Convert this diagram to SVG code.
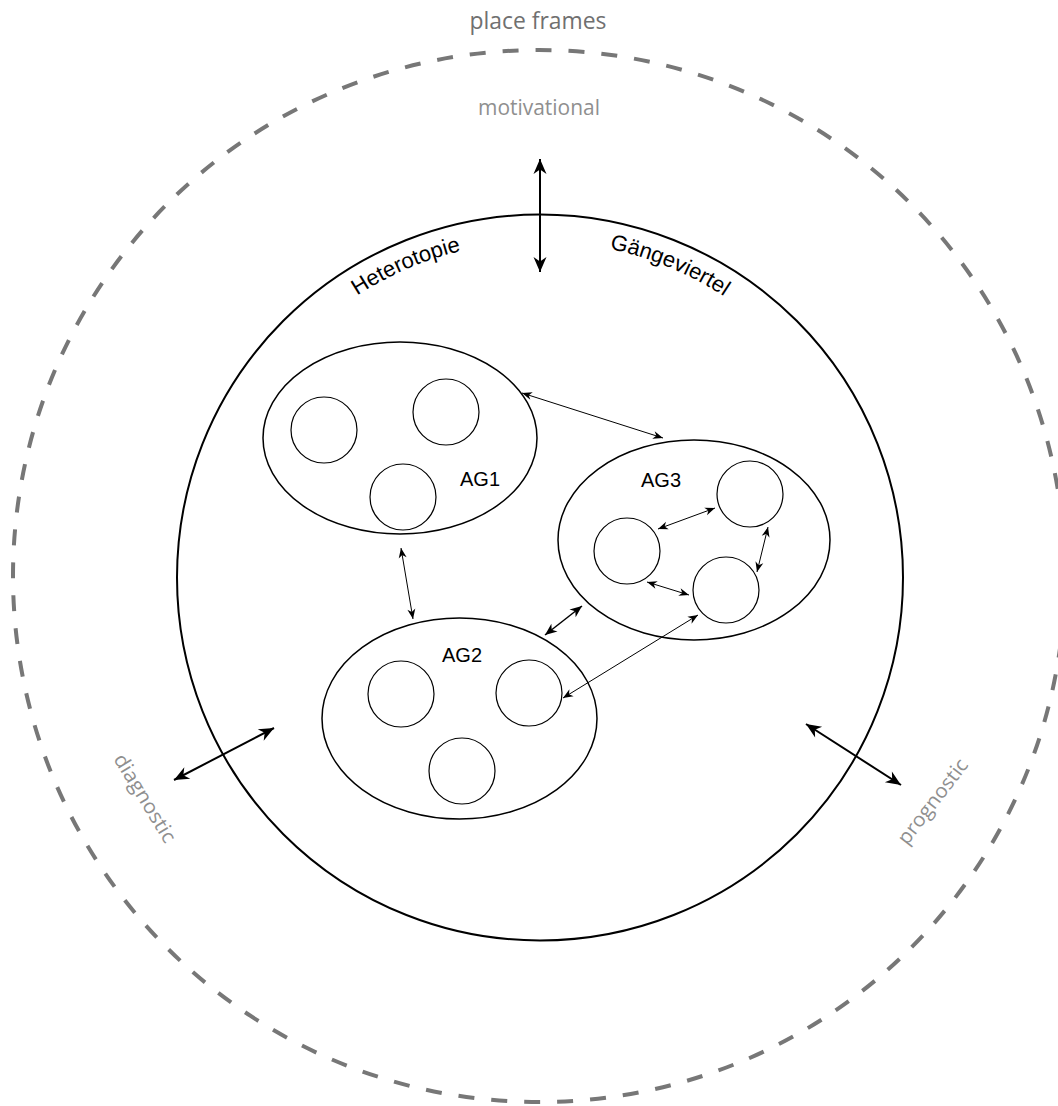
<svg xmlns="http://www.w3.org/2000/svg" width="1058" height="1106" viewBox="0 0 1058 1106">
<style>
  .frame { fill: none; stroke: #777; stroke-width: 4; stroke-dasharray: 16 17; }
  .main { fill: none; stroke: #000; stroke-width: 2; }
  .group { fill: none; stroke: #000; stroke-width: 1.5; }
  .member { fill: none; stroke: #000; stroke-width: 1.2; }
  .gray1 { font-family: "Open Sans", "Noto Sans", sans-serif; fill: #707070; }
  .gray2 { font-family: "Open Sans", "Noto Sans", sans-serif; fill: #8f8f8f; }
  .lbl { font-family: "Liberation Sans", Arial, sans-serif; fill: #000; }
  .big { fill: none; stroke: #000; stroke-width: 2; marker-start: url(#bigArrow); marker-end: url(#bigArrow); }
  .mid { fill: none; stroke: #000; stroke-width: 1.5; marker-start: url(#midArrow); marker-end: url(#midArrow); }
  .small { fill: none; stroke: #000; stroke-width: 1; marker-start: url(#smallArrow); marker-end: url(#smallArrow); }
</style>
<defs>
  <marker id="bigArrow" viewBox="-16 -8 17 16" refX="0" refY="0" markerWidth="17" markerHeight="16" markerUnits="userSpaceOnUse" orient="auto-start-reverse">
    <path d="M0,0 L-15,-6.5 L-10.5,0 L-15,6.5 Z" fill="#000"/>
  </marker>
  <marker id="midArrow" viewBox="-13 -6 14 12" refX="0" refY="0" markerWidth="14" markerHeight="12" markerUnits="userSpaceOnUse" orient="auto-start-reverse">
    <path d="M0,0 L-12,-5 L-8.5,0 L-12,5 Z" fill="#000"/>
  </marker>
  <marker id="smallArrow" viewBox="-11 -5 12 10" refX="0" refY="0" markerWidth="12" markerHeight="10" markerUnits="userSpaceOnUse" orient="auto-start-reverse">
    <path d="M0,0 L-10,-4 L-7,0 L-10,4 Z" fill="#000"/>
  </marker>
  <path id="innerArc" d="M 204,577.5 A 336 336 0 0 1 876,577.5"/>
</defs>
<rect width="1058" height="1106" fill="#fff"/>

<g id="place-frames">
  <circle class="frame" cx="539" cy="576" r="526"/>
  <text class="gray1" x="538" y="29" font-size="23" text-anchor="middle" textLength="137" lengthAdjust="spacingAndGlyphs">place frames</text>
</g>

<g id="motivational">
  <text class="gray2" x="539" y="115" font-size="21" text-anchor="middle" textLength="122" lengthAdjust="spacingAndGlyphs">motivational</text>
</g>
<g id="diagnostic">
  <text class="gray2" font-size="20" transform="translate(113,759) rotate(58.5)" textLength="100" lengthAdjust="spacingAndGlyphs">diagnostic</text>
</g>
<g id="prognostic">
  <text class="gray2" font-size="20" transform="translate(907,846) rotate(-52.5)" textLength="102" lengthAdjust="spacingAndGlyphs">prognostic</text>
</g>

<g id="hamburg">
  <circle class="main" cx="540" cy="577.5" r="363"/>
  <text class="lbl" font-size="22" text-anchor="middle"><textPath href="#innerArc" startOffset="391">Heterotopie</textPath></text>
  <text class="lbl" font-size="22" text-anchor="middle"><textPath href="#innerArc" startOffset="660">Gängeviertel</textPath></text>
</g>

<g id="AG1">
  <ellipse class="group" cx="400" cy="438" rx="137" ry="96"/>
  <circle class="member" cx="324" cy="430" r="33"/>
  <circle class="member" cx="446" cy="412" r="33"/>
  <circle class="member" cx="403" cy="497" r="33"/>
  <text class="lbl" x="480" y="486" font-size="20" text-anchor="middle">AG1</text>
</g>

<g id="AG2">
  <ellipse class="group" cx="459.5" cy="718.5" rx="137.5" ry="100.5"/>
  <circle class="member" cx="401" cy="694" r="33"/>
  <circle class="member" cx="529" cy="693" r="33"/>
  <circle class="member" cx="462" cy="771" r="33"/>
  <text class="lbl" x="462" y="662" font-size="20" text-anchor="middle">AG2</text>
</g>

<g id="AG3">
  <ellipse class="group" cx="694" cy="540" rx="136" ry="100"/>
  <circle class="member" cx="627" cy="551" r="33"/>
  <circle class="member" cx="750" cy="494" r="33"/>
  <circle class="member" cx="726" cy="590" r="33"/>
  <text class="lbl" x="661" y="487" font-size="20" text-anchor="middle">AG3</text>
</g>

<g id="connectors">
  <line class="big" x1="540" y1="159" x2="540" y2="272"/>
  <line class="big" x1="174" y1="780" x2="274" y2="728"/>
  <line class="big" x1="806" y1="724" x2="901" y2="785"/>
  <line class="small" x1="522" y1="393" x2="663" y2="438"/>
  <line class="small" x1="401" y1="548" x2="413" y2="619"/>
  <line class="mid" x1="545" y1="635" x2="582" y2="606"/>
  <line class="small" x1="698" y1="615" x2="563" y2="698"/>
  <line class="small" x1="658" y1="529" x2="715" y2="508"/>
  <line class="small" x1="768" y1="527" x2="757" y2="572"/>
  <line class="small" x1="647" y1="582" x2="689" y2="595"/>
</g>
</svg>
